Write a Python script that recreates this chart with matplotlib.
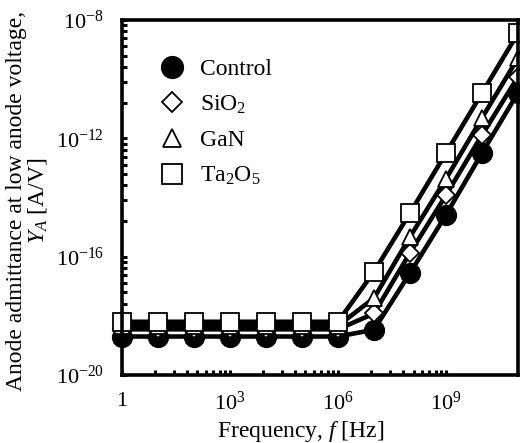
import matplotlib
matplotlib.use("Agg")
import matplotlib.pyplot as plt
from matplotlib.lines import Line2D
from matplotlib.ticker import FixedLocator, FixedFormatter, NullFormatter

plt.rcParams['font.family'] = ['Liberation Serif', 'DejaVu Serif']
plt.rcParams['mathtext.fontset'] = 'custom'
plt.rcParams['mathtext.rm'] = 'Liberation Serif'
plt.rcParams['mathtext.it'] = 'Liberation Serif:italic'

# data
freq = [1e0, 1e1, 1e2, 1e3, 1e4, 1e5, 1e6, 1e7, 1e8, 1e9, 1e10, 1e11]
control = [2.0e-19, 2.0e-19, 2.0e-19, 2.0e-19, 2.0e-19, 2.0e-19, 2.0e-19,
           3.4e-19, 2.8e-17, 2.6e-15, 3.2e-13, 3.5e-11]
sio2 = [3.5e-19, 3.5e-19, 3.5e-19, 3.5e-19, 3.5e-19, 3.5e-19, 3.5e-19,
        1.2e-18, 1.35e-16, 1.2e-14, 1.3e-12, 1.2e-10]
gan = [4.6e-19, 4.6e-19, 4.6e-19, 4.6e-19, 4.6e-19, 4.6e-19, 4.6e-19,
       4.0e-18, 4.7e-16, 4.3e-14, 4.9e-12, 5.2e-10]
ta2o5 = [6.3e-19, 6.3e-19, 6.3e-19, 6.3e-19, 6.3e-19, 6.3e-19, 6.3e-19,
         3.1e-17, 3.0e-15, 3.2e-13, 3.4e-11, 3.6e-9]

labels = ["Control", "SiO$_2$", "GaN", "Ta$_2$O$_5$"]
series = [control, sio2, gan, ta2o5]
markers = ["o", "D", "^", "s"]
fills = ["black", "white", "white", "white"]
sizes = [14, 9.5, 12, 12.5]

xticks = [1e0, 1e3, 1e6, 1e9]
xticklabels = ["1", "$10^{3}$", "$10^{6}$", "$10^{9}$"]
yticks = [1e-20, 1e-16, 1e-12, 1e-8]
yticklabels = ["$10^{-20}$", "$10^{-16}$", "$10^{-12}$", "$10^{-8}$"]

fig = plt.figure(figsize=(5.2, 4.43), dpi=100)
ax = fig.add_axes([0.2346, 0.1535, 0.7616, 0.8014])

for ys, m, fc, ms in zip(series, markers, fills, sizes):
    ax.plot(freq, ys, color="black", lw=3.3, marker=m, ms=ms,
            mfc=fc, mec="black", mew=1.3, clip_on=False)

ax.set_xscale("log")
ax.set_yscale("log")
ax.set_xlim(1, 1e11)
ax.set_ylim(1e-20, 1e-8)

# ticks: major every 3 (x) / 4 (y) decades, minor spaced like a 2..9 log grid
ax.xaxis.set_major_locator(FixedLocator(xticks))
ax.xaxis.set_major_formatter(FixedFormatter(xticklabels))
ax.yaxis.set_major_locator(FixedLocator(yticks))
ax.yaxis.set_major_formatter(FixedFormatter(yticklabels))
xminor = [k ** 3 * t for t in xticks[:3] for k in range(2, 10)]
yminor = [k ** 4 * t for t in yticks[:3] for k in range(2, 10)]
ax.xaxis.set_minor_locator(FixedLocator(xminor))
ax.yaxis.set_minor_locator(FixedLocator(yminor))
ax.xaxis.set_minor_formatter(NullFormatter())
ax.yaxis.set_minor_formatter(NullFormatter())
ax.tick_params(which="both", direction="in", length=3.5, width=2.2,
               top=False, right=False, labelsize=16)
ax.tick_params(axis="x", which="major", pad=12)
ax.tick_params(axis="y", which="major", pad=13)

for sp in ax.spines.values():
    sp.set_linewidth(2.6)

ax.set_xlabel("Frequency, $f$ [Hz]", fontsize=17)
ax.xaxis.set_label_coords(0.452, -0.125)
ax.set_ylabel("Anode admittance at low anode voltage,\n$Y_A$ [A/V]",
              fontsize=17, linespacing=0.95)
ax.yaxis.set_label_coords(-0.185, 0.49)

handles = [Line2D([], [], ls="none", marker=m, ms=ms, mfc=fc, mec="black",
                  mew=1.3) for m, fc, ms in zip(markers, fills, sizes)]
ax.legend(handles, labels, loc="upper left", bbox_to_anchor=(0.072, 0.918),
          frameon=False, fontsize=17, handlelength=1.0, handletextpad=0.7,
          labelspacing=0.58, markerscale=1.1, borderaxespad=0)

fig.savefig("out.png", dpi=100)
